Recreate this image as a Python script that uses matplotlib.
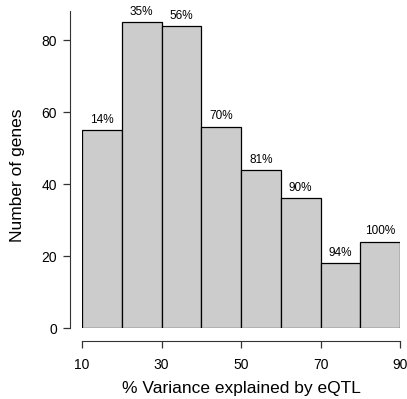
import numpy as np
import matplotlib.pyplot as plt

plt.rcParams['font.family'] = ['Liberation Sans', 'DejaVu Sans']

# histogram bins (% variance explained) and gene counts
bin_edges = [10, 20, 30, 40, 50, 60, 70, 80, 90]
counts = [55, 85, 84, 56, 44, 36, 18, 24]
cum_labels = ["14%", "35%", "56%", "70%", "81%", "90%", "94%", "100%"]
yticks = [0, 20, 40, 60, 80]
xticks = [10, 30, 50, 70, 90]

W, H = 407, 399
fig = plt.figure(figsize=(W / 100, H / 100), dpi=100)
ax = fig.add_axes([82 / W, 71 / H, 318 / W, 316.6 / H])

lefts = bin_edges[:-1]
widths = np.diff(bin_edges)
ax.bar(lefts, counts, width=widths, align='edge', color='#cccccc',
       edgecolor='black', linewidth=0.9)

for x0, w, c, lab in zip(lefts, widths, counts, cum_labels):
    ax.annotate(lab, (x0 + w / 2, c), xytext=(0, 3), textcoords='offset points',
                ha='center', va='bottom', fontsize=8.5, annotation_clip=False)

ax.set_xlim(10, 90)
ax.set_ylim(0, 88)

for s in ['top', 'right']:
    ax.spines[s].set_visible(False)
ax.spines['left'].set_position(('outward', 9))
ax.spines['bottom'].set_position(('outward', 9.4))
ax.spines['left'].set_bounds(0, 88)
ax.spines['bottom'].set_bounds(10, 90)
for s in ['left', 'bottom']:
    ax.spines[s].set_color('#333333')

ax.set_xticks(xticks)
ax.set_yticks(yticks)
ax.tick_params(axis='both', labelsize=10, length=5, width=0.9, direction='out',
               color='#333333')
ax.tick_params(axis='x', pad=7)
ax.tick_params(axis='y', pad=4)

ax.set_xlabel("% Variance explained by eQTL", fontsize=12.5, labelpad=7)
ax.set_ylabel("Number of genes", fontsize=12.5)
ax.yaxis.set_label_coords(-0.18, 0.483)

fig.savefig("out.png", dpi=100)
